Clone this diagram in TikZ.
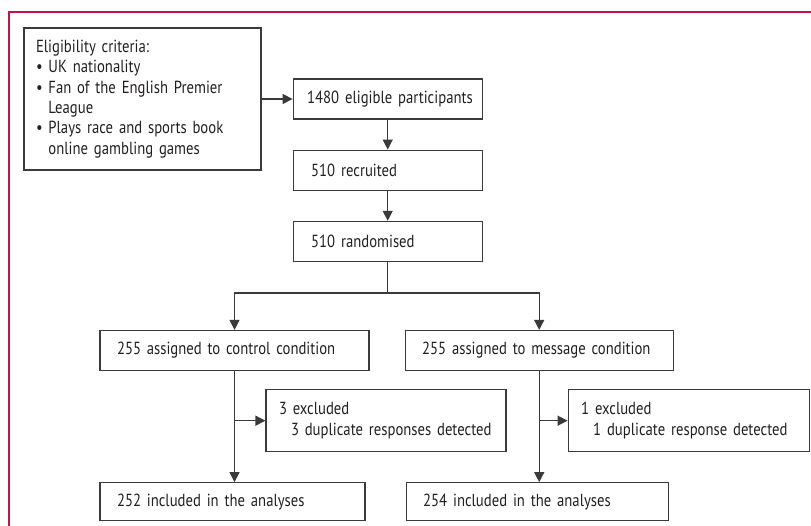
\documentclass[tikz,border=0pt]{standalone}
\usepackage{fontspec}
\setmainfont{PT Sans}[FakeStretch=0.84]
\usetikzlibrary{positioning,arrows.meta,calc}

\definecolor{framered}{RGB}{200,16,72}
\definecolor{linegray}{RGB}{58,58,58}
\definecolor{textgray}{RGB}{35,31,32}

\begin{document}
\begin{tikzpicture}[x=1pt,y=1pt,
    box/.style={rectangle,draw=linegray,line width=1.2pt,text=textgray,
		inner xsep=17pt,inner ysep=4pt,minimum height=40pt,align=left,
		font=\fontsize{17.5}{20.4}\selectfont},
    bullet/.style={box,inner xsep=12pt},
    flow/.style={draw=linegray,line width=1.2pt},
% arrow heads
    >={Triangle[length=10pt,width=10pt]}
    ]
\useasboundingbox (0,0) rectangle (811,526);
\draw [framered,line width=1.3pt] (9,0) -- (9,514) -- (811,514);

\node [bullet,text width=213pt,minimum height=142pt] (criteria) at (142.5,427)
  {Eligibility criteria:\\
   \textbullet\ UK nationality\\
   \textbullet\ Fan of the English Premier\\
   \hphantom{\textbullet\ }League\\
   \textbullet\ Plays race and sports book\\
   \hphantom{\textbullet\ }online gambling games};
\node [box,text width=173pt,inner xsep=8pt,right=31pt of criteria] (eligible) {\mbox{\hspace*{6pt}1480 eligible participants}};
\node [box,text width=153pt,inner xsep=18pt,below=30pt of eligible] (recruited) {510 recruited};
\node [box,text width=153pt,inner xsep=18pt,below=30pt of recruited] (randomised) {510 randomised};

\node [box,text width=235pt] (control) at (234.5,175.5) {\mbox{255 assigned to control condition}};
\node [box,text width=234pt,right=35pt of control] (message) {\mbox{255 assigned to message condition}};

\node [box,text width=214pt,inner xsep=13pt,minimum height=62pt,
  below right=18pt and 166pt of control.south west] (exclctrl)
  {3 excluded\\ \hspace*{12pt}\mbox{3 duplicate responses detected}};
\node [box,text width=215pt,inner xsep=13pt,minimum height=62pt,
  below right=18pt and 163pt of message.south west] (exclmsg)
  {1 excluded\\ \hspace*{12pt}\mbox{1 duplicate response detected}};

\node [box,text width=231pt,minimum height=38pt,
  below right=111pt and 0pt of control.south west] (analysedctrl) {252 included in the analyses};
\node [box,text width=228pt,minimum height=38pt,
  below right=111pt and 1pt of message.south west] (analysedmsg) {254 included in the analyses};

\draw [flow,->] (criteria.east |- eligible.west) -- (eligible.west);
\draw [flow,->] (eligible) -- (recruited);
\draw [flow,->] (recruited) -- (randomised);
\draw [flow] (randomised.south) -- ++(0,-31) coordinate (split);
\draw [flow,->] (split) -| (control.north);
\draw [flow,->] (split) -| (message.north);
\draw [flow,->] (control.south) -- (control.south |- analysedctrl.north);
\draw [flow,->] (message.south) -- (message.south |- analysedmsg.north);
\draw [flow,->] (control.south |- exclctrl.west) -- (exclctrl.west);
\draw [flow,->] (message.south |- exclmsg.west) -- (exclmsg.west);
\end{tikzpicture}
\end{document}
